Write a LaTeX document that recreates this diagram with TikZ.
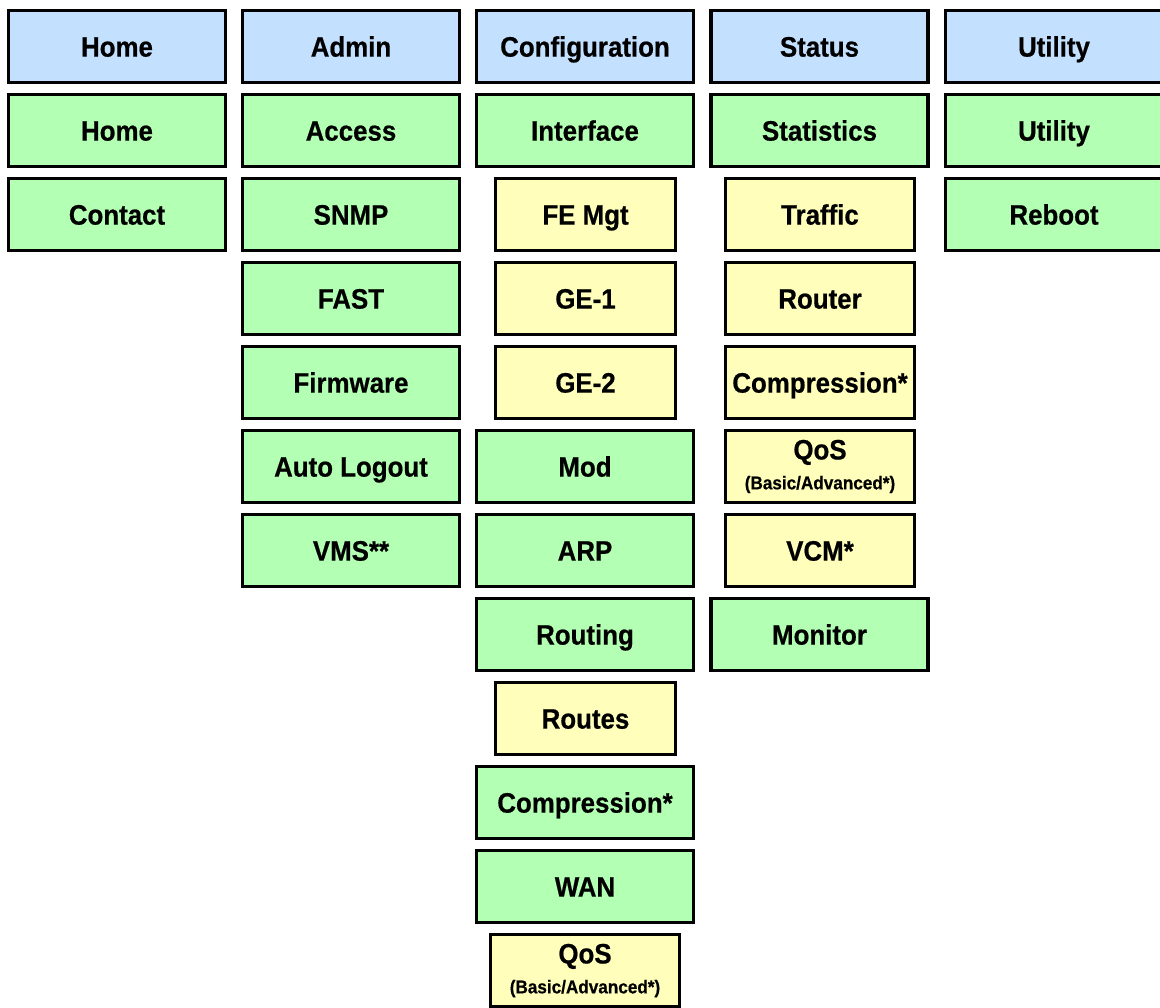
\documentclass[tikz,border=0pt]{standalone}
\usepackage{fontspec}
\setmainfont{Liberation Sans}[FakeStretch=0.92, BoldFeatures={FakeBold=0.6}]
\usepackage{tikz}
\usetikzlibrary{shadows}
\definecolor{tabblue}{HTML}{C4E0FF}
\definecolor{pagegreen}{HTML}{B3FFB3}
\definecolor{subyellow}{HTML}{FFFFBB}
\newcommand{\qosnote}{{\fontsize{10.6}{12}\selectfont (Basic/Advanced*)}}

\begin{document}
\begin{tikzpicture}[
  %--- shared node styles -----------------------------------------
  menubox/.style={
    rectangle, draw=black, line width=1.9pt,
    minimum height=1.44cm, align=center,
    font=\fontsize{16}{18}\selectfont\bfseries,
    text height=11.5pt, text depth=0pt,
    inner sep=2pt,
    drop shadow={shadow xshift=0.6pt, shadow yshift=-0.6pt,
      fill=black, opacity=0.25}
  },
  tabbox/.style={menubox, fill=tabblue, minimum width=4.34cm},
  pagebox/.style={menubox, fill=pagegreen, minimum width=4.34cm},
  subbox/.style={menubox, fill=subyellow, minimum width=3.6cm},
  widebox/.style={menubox, fill=subyellow, minimum width=3.78cm},
  qosbox/.style={widebox, text height=, text depth=},
]
\useasboundingbox (0,0) rectangle (23.2,-20.14);

%% --- ROW 0  (y=-0.93): menu tabs --------------------------------
\node[tabbox] (tabhome)   at ( 2.34, -0.93) {Home};
\node[tabbox] (tabadmin)  at ( 7.02, -0.93) {Admin};
\node[tabbox] (tabconfig) at (11.70, -0.93) {Configuration};
\node[tabbox] (tabstatus) at (16.39, -0.93) {Status};
\node[tabbox] (tabutil)   at (21.08, -0.93) {Utility};

%% --- Home column ------------------------------------------------
\node[pagebox] (home)    at (2.34, -2.61) {Home};
\node[pagebox] (contact) at (2.34, -4.29) {Contact};

%% --- Admin column -----------------------------------------------
\node[pagebox] (access)   at (7.02,  -2.61) {Access};
\node[pagebox] (snmp)     at (7.02,  -4.29) {SNMP};
\node[pagebox] (fast)     at (7.02,  -5.97) {FAST};
\node[pagebox] (firmware) at (7.02,  -7.65) {Firmware};
\node[pagebox] (logout)   at (7.02,  -9.33) {Auto Logout};
\node[pagebox] (vms)      at (7.02, -11.01) {VMS**};

%% --- Configuration column ---------------------------------------
\node[pagebox] (iface)    at (11.70,  -2.61) {Interface};
\node[subbox]  (femgt)    at (11.71,  -4.29) {FE Mgt};
\node[subbox]  (geone)    at (11.71,  -5.97) {GE-1};
\node[subbox]  (getwo)    at (11.71,  -7.65) {GE-2};
\node[pagebox] (mod)      at (11.70,  -9.33) {Mod};
\node[pagebox] (arp)      at (11.70, -11.01) {ARP};
\node[pagebox] (routing)  at (11.70, -12.69) {Routing};
\node[subbox]  (routes)   at (11.71, -14.37) {Routes};
\node[pagebox] (compcfg)  at (11.70, -16.05) {Compression*};
\node[pagebox] (wan)      at (11.70, -17.73) {WAN};
\node[qosbox]  (qoscfg)   at (11.70, -19.41) {QoS\\[-1pt]\qosnote};

%% --- Status column ----------------------------------------------
\node[pagebox] (stats)    at (16.39,  -2.61) {Statistics};
\node[widebox] (traffic)  at (16.40,  -4.29) {Traffic};
\node[widebox] (router)   at (16.40,  -5.97) {Router};
\node[widebox] (compstat) at (16.40,  -7.65) {Compression*};
\node[qosbox]  (qosstat)  at (16.40,  -9.33) {QoS\\[-1pt]\qosnote};
\node[widebox] (vcm)      at (16.40, -11.01) {VCM*};
\node[pagebox] (monitor)  at (16.39, -12.69) {Monitor};

%% --- Utility column ---------------------------------------------
\node[pagebox] (utility) at (21.08, -2.61) {Utility};
\node[pagebox] (reboot)  at (21.08, -4.29) {Reboot};

\end{tikzpicture}
\end{document}
